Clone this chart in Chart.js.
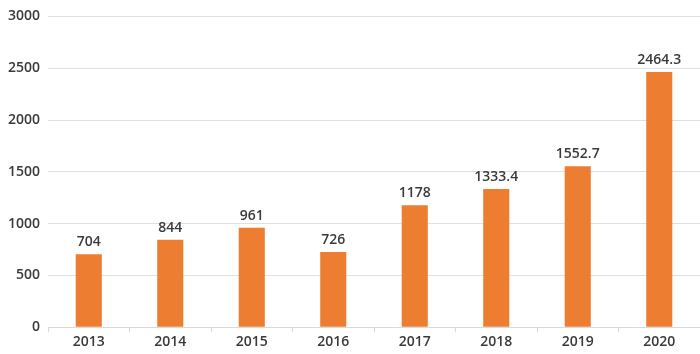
<!DOCTYPE html>
<html>
<head>
<meta charset="utf-8">
<script src="https://cdn.jsdelivr.net/npm/chart.js@4"></script>
<style>
html,body{margin:0;padding:0;background:#fff;}
#wrap{width:700px;height:354px;}
</style>
</head>
<body>
<div id="wrap"><canvas id="c" width="700" height="354"></canvas></div>
<script>
const categories = ['2013','2014','2015','2016','2017','2018','2019','2020'];
const values = [704, 844, 961, 726, 1178, 1333.4, 1552.7, 2464.3];
const valueLabels = ['704','844','961','726','1178','1333.4','1552.7','2464.3'];
const yTicks = [0, 500, 1000, 1500, 2000, 2500, 3000];

const FONT = "'Open Sans', 'Noto Sans', sans-serif";

const labelPlugin = {
  id: 'valueLabels',
  afterDatasetsDraw(chart) {
    const ctx = chart.ctx;
    const meta = chart.getDatasetMeta(0);
    ctx.save();
    ctx.font = "600 14px " + FONT;
    ctx.fillStyle = '#3a3a3a';
    ctx.textAlign = 'center';
    ctx.textBaseline = 'bottom';
    meta.data.forEach((bar, i) => {
      ctx.fillText(valueLabels[i], bar.x, bar.y - 5);
    });
    ctx.restore();
  }
};

new Chart(document.getElementById('c'), {
  type: 'bar',
  data: {
    labels: categories,
    datasets: [{
      data: values,
      backgroundColor: '#ED7D31',
      categoryPercentage: 1,
      barPercentage: 0.32
    }]
  },
  options: {
    responsive: false,
    animation: false,
    devicePixelRatio: 1,
    layout: { padding: { top: 7, right: 0, left: 0, bottom: 3 } },
    plugins: { legend: { display: false }, tooltip: { enabled: false } },
    scales: {
      x: {
        offset: true,
        grid: { display: true, drawOnChartArea: false, offset: true, tickLength: 5, color: '#d9d9d9' },
        border: { display: true, color: '#d9d9d9' },
        ticks: { color: '#3a3a3a', font: { family: FONT, size: 14, weight: '600' }, padding: 1 }
      },
      y: {
        min: 0, max: 3000,
        afterBuildTicks(axis) { axis.ticks = yTicks.map(v => ({ value: v })); },
        grid: { color: '#e0e0e0', drawTicks: false },
        border: { display: false },
        ticks: { color: '#3a3a3a', font: { family: FONT, size: 14, weight: '600' }, padding: 8, callback: v => String(v) }
      }
    }
  },
  plugins: [labelPlugin]
});
</script>
</body>
</html>
